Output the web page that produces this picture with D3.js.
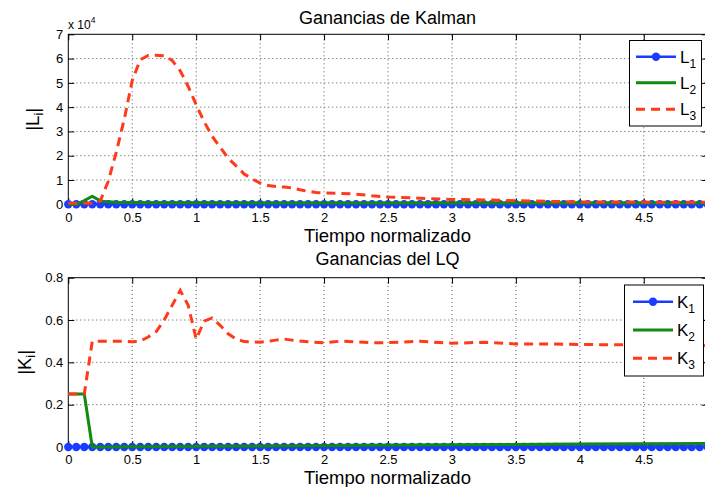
<!DOCTYPE html>
<html>
<head>
<meta charset="utf-8">
<script src="https://cdn.jsdelivr.net/npm/d3@7"></script>
<style>
  html, body { margin: 0; padding: 0; background: #fff; }
  svg { display: block; font-family: "Liberation Sans", Arial, Helvetica, sans-serif; }
</style>
</head>
<body>
<svg id="chart" width="705" height="487"></svg>
<script>
// ---------------- DATA ----------------
const timeGrid = [
  0,0.0625,0.125,0.1875,0.25,0.3125,0.375,0.4375,0.5,0.5625,0.625,0.6875,0.75,0.8125,0.875,0.9375,
  1,1.0625,1.125,1.1875,1.25,1.3125,1.375,1.4375,1.5,1.5625,1.625,1.6875,1.75,1.8125,1.875,1.9375,
  2,2.0625,2.125,2.1875,2.25,2.3125,2.375,2.4375,2.5,2.5625,2.625,2.6875,2.75,2.8125,2.875,2.9375,
  3,3.0625,3.125,3.1875,3.25,3.3125,3.375,3.4375,3.5,3.5625,3.625,3.6875,3.75,3.8125,3.875,3.9375,
  4,4.0625,4.125,4.1875,4.25,4.3125,4.375,4.4375,4.5,4.5625,4.625,4.6875,4.75,4.8125,4.875,4.9375,5
];
// Kalman gains (x 10^4)
const L1 = [
  0,0,0,0,0,0,0,0,0,0,0,0,0,0,0,0,
  0,0,0,0,0,0,0,0,0,0,0,0,0,0,0,0,
  0,0,0,0,0,0,0,0,0,0,0,0,0,0,0,0,
  0,0,0,0,0,0,0,0,0,0,0,0,0,0,0,0,
  0,0,0,0,0,0,0,0,0,0,0,0,0,0,0,0,0
];
const L2Time = [0, 0.0625, 0.125, 0.1875, 0.25, 0.3125, 0.375, 0.5, 0.75, 1, 1.5, 2, 3, 4, 5];
const L2 =     [0, 0,      0.15,  0.33,   0.14, 0.1,    0.08,  0.07, 0.06, 0.06, 0.05, 0.05, 0.05, 0.05, 0.05];
const L3Time = [0, 0.0625, 0.125, 0.1875, 0.25, 0.3125, 0.375, 0.4375, 0.5, 0.5625, 0.625, 0.6875, 0.75,
                0.8125, 0.875, 0.9375, 1, 1.0625, 1.125, 1.1875, 1.25, 1.3125, 1.375, 1.4375, 1.5,
                1.5625, 1.625, 1.6875, 1.75, 1.8125, 1.875, 1.9375, 2, 2.125, 2.25, 2.375, 2.5,
                2.75, 3, 3.25, 3.5, 3.75, 4, 4.5, 5];
const L3 =     [0.04, 0.04, 0.04, 0.04, 0.14, 0.95, 2.15, 3.5, 5.1, 5.95, 6.13, 6.14, 6.12,
                5.92, 5.5, 4.85, 4.1, 3.4, 2.8, 2.35, 1.9, 1.58, 1.25, 1.05, 0.87,
                0.77, 0.73, 0.71, 0.68, 0.6, 0.53, 0.49, 0.47, 0.45, 0.42, 0.35, 0.3,
                0.25, 0.2, 0.18, 0.15, 0.12, 0.1, 0.09, 0.08];
// LQ gains
const K1 = [
  0,0,0,0,0,0,0,0,0,0,0,0,0,0,0,0,
  0,0,0,0,0,0,0,0,0,0,0,0,0,0,0,0,
  0,0,0,0,0,0,0,0,0,0,0,0,0,0,0,0,
  0,0,0,0,0,0,0,0,0,0,0,0,0,0,0,0,
  0,0,0,0,0,0,0,0,0,0,0,0,0,0,0,0,0
];
const K2Time = [0, 0.0625, 0.125, 0.1875, 0.25, 1, 2, 3, 4, 5];
const K2 =     [0.25, 0.25, 0.25, 0, 0, 0.003, 0.007, 0.011, 0.014, 0.016];
const K3Time = [0, 0.0625, 0.125, 0.1875, 0.25, 0.3125, 0.375, 0.4375, 0.5, 0.5625, 0.625, 0.6875, 0.75,
                0.8125, 0.875, 0.9375, 1, 1.0625, 1.125, 1.1875, 1.25, 1.3125, 1.375, 1.5, 1.625,
                1.6875, 1.75, 1.875, 2, 2.125, 2.25, 2.375, 2.5, 2.75, 3, 3.25, 3.5, 3.75, 4, 4.5, 5];
const K3 =     [0.25, 0.25, 0.25, 0.5, 0.5, 0.5, 0.5, 0.5, 0.497, 0.5, 0.52, 0.545, 0.6,
                0.67, 0.74, 0.67, 0.51, 0.595, 0.61, 0.575, 0.535, 0.51, 0.498, 0.495, 0.505,
                0.51, 0.505, 0.497, 0.492, 0.5, 0.497, 0.493, 0.493, 0.5, 0.49, 0.495, 0.487, 0.487, 0.484, 0.483, 0.48];

const xTicks = [0, 0.5, 1, 1.5, 2, 2.5, 3, 3.5, 4, 4.5, 5];
const xTickLabels = ["0", "0.5", "1", "1.5", "2", "2.5", "3", "3.5", "4", "4.5", "5"];
const yTicksTop = [0, 1, 2, 3, 4, 5, 6, 7];
const yTickLabelsTop = ["0", "1", "2", "3", "4", "5", "6", "7"];
const yTicksBottom = [0, 0.2, 0.4, 0.6, 0.8];
const yTickLabelsBottom = ["0", "0.2", "0.4", "0.6", "0.8"];

const titles = ["Ganancias de Kalman", "Ganancias del LQ"];
const xLabel = "Tiempo normalizado";
const colors = { s1: "#1a3cff", s2: "#118a11", s3: "#ff3a1a" };

// ---------------- DRAWING ----------------
const svg = d3.select("#chart");
const FONT_TICK = 13;

function panel(cfg) {
  const g = svg.append("g");
  const x = d3.scaleLinear().domain([0, 5]).range([68.3, 707.7]);
  const y = d3.scaleLinear().domain(cfg.yDomain).range([cfg.bottom, cfg.top]);

  // grid
  g.append("g").selectAll("line.gx").data(xTicks.slice(1, -1)).join("line")
    .attr("x1", d => x(d)).attr("x2", d => x(d))
    .attr("y1", cfg.bottom).attr("y2", cfg.top)
    .attr("stroke", "#555").attr("stroke-width", 1).attr("stroke-dasharray", "1,3");
  g.append("g").selectAll("line.gy").data(cfg.yTicks.slice(1, -1)).join("line")
    .attr("x1", x(0)).attr("x2", x(5))
    .attr("y1", d => y(d)).attr("y2", d => y(d))
    .attr("stroke", "#555").attr("stroke-width", 1).attr("stroke-dasharray", "1,3");

  // axes (inward ticks)
  const fmtX = d => xTickLabels[xTicks.indexOf(d)];
  const fmtY = d => cfg.yLabels[cfg.yTicks.indexOf(d)];
  const axB = g.append("g").attr("transform", `translate(0,${cfg.bottom})`)
    .call(d3.axisBottom(x).tickValues(xTicks).tickFormat(fmtX).tickSize(-6).tickPadding(8));
  const axT = g.append("g").attr("transform", `translate(0,${cfg.top})`)
    .call(d3.axisTop(x).tickValues(xTicks).tickFormat("").tickSize(-6));
  const axL = g.append("g").attr("transform", `translate(${x(0)},0)`)
    .call(d3.axisLeft(y).tickValues(cfg.yTicks).tickFormat(fmtY).tickSize(-6).tickPadding(5));
  const axR = g.append("g").attr("transform", `translate(${x(5)},0)`)
    .call(d3.axisRight(y).tickValues(cfg.yTicks).tickFormat("").tickSize(-6));
  [axB, axT, axL, axR].forEach(a => {
    a.select(".domain").remove();
    a.selectAll("line").attr("stroke", "#000");
    a.selectAll("text").attr("fill", "#000").style("font-size", FONT_TICK + "px")
      .style("font-family", '"Liberation Sans", Arial, sans-serif');
  });

  // box
  g.append("rect").attr("x", x(0)).attr("y", cfg.top)
    .attr("width", x(5) - x(0)).attr("height", cfg.bottom - cfg.top)
    .attr("fill", "none").attr("stroke", "#000").attr("stroke-width", 1);

  const line = d3.line().x(d => x(d[0])).y(d => y(d[1]));

  // series 1: line + markers
  const s1 = timeGrid.map((t, i) => [t, cfg.s1[i]]);
  g.append("path").attr("d", line(s1)).attr("fill", "none")
    .attr("stroke", colors.s1).attr("stroke-width", 2.5);
  g.append("g").selectAll("circle").data(s1).join("circle")
    .attr("cx", d => x(d[0])).attr("cy", d => y(d[1])).attr("r", 4.2)
    .attr("fill", colors.s1);

  // series 2
  const s2 = cfg.s2t.map((t, i) => [t, cfg.s2[i]]);
  g.append("path").attr("d", line(s2)).attr("fill", "none")
    .attr("stroke", colors.s2).attr("stroke-width", 3).attr("stroke-linejoin", "round");

  // series 3 dashed
  const s3 = cfg.s3t.map((t, i) => [t, cfg.s3[i]]);
  g.append("path").attr("d", line(s3)).attr("fill", "none")
    .attr("stroke", colors.s3).attr("stroke-width", 3).attr("stroke-dasharray", "9,6");

  // title
  svg.append("text").attr("x", 387.5).attr("y", cfg.titleY).attr("text-anchor", "middle")
    .style("font-size", "18px").text(cfg.title);
  // x label
  svg.append("text").attr("x", 387.5).attr("y", cfg.xLabelY).attr("text-anchor", "middle")
    .style("font-size", "18.5px").text(xLabel);
  // y label
  const yl = svg.append("text")
    .attr("transform", `translate(${cfg.yLabelX},${(cfg.top + cfg.bottom) / 2}) rotate(-90)`)
    .attr("text-anchor", "middle").style("font-size", "18.5px");
  yl.append("tspan").text("|" + cfg.sym);
  yl.append("tspan").attr("dy", "0.3em").style("font-size", "13px").text("i");
  yl.append("tspan").attr("dy", "-0.2em").text("|");

  // legend
  const lg = svg.append("g");
  lg.append("rect").attr("x", cfg.leg.x0).attr("y", cfg.leg.y0)
    .attr("width", cfg.leg.x1 - cfg.leg.x0).attr("height", cfg.leg.y1 - cfg.leg.y0)
    .attr("fill", "#fff").attr("stroke", "#000").attr("stroke-width", 1);
  const styles = [
    { c: colors.s1, dash: null, marker: true },
    { c: colors.s2, dash: null, marker: false },
    { c: colors.s3, dash: "9,6", marker: false }
  ];
  cfg.leg.rows.forEach((ry, i) => {
    const st = styles[i];
    lg.append("line").attr("x1", cfg.leg.lx0).attr("x2", cfg.leg.lx1)
      .attr("y1", ry).attr("y2", ry).attr("stroke", st.c)
      .attr("stroke-width", st.marker ? 2.5 : 3)
      .attr("stroke-dasharray", st.dash);
    if (st.marker) lg.append("circle").attr("cx", (cfg.leg.lx0 + cfg.leg.lx1) / 2)
      .attr("cy", ry).attr("r", 4.2).attr("fill", st.c);
    const t = lg.append("text").attr("x", cfg.leg.tx).attr("y", ry + 6).style("font-size", "17px");
    t.append("tspan").text(cfg.sym);
    t.append("tspan").attr("dy", 5).style("font-size", "12px").text(String(i + 1));
  });
}

panel({
  top: 34.3, bottom: 204.3, yDomain: [0, 7],
  yTicks: yTicksTop, yLabels: yTickLabelsTop,
  s1: L1, s2t: L2Time, s2: L2, s3t: L3Time, s3: L3,
  title: titles[0], titleY: 23.5, xLabelY: 241.5, yLabelX: 39, sym: "L",
  leg: { x0: 629.5, x1: 701.5, y0: 40.5, y1: 126, rows: [56.7, 82.7, 109.3],
         lx0: 636, lx1: 676, tx: 680 }
});
panel({
  top: 277.7, bottom: 447, yDomain: [0, 0.8],
  yTicks: yTicksBottom, yLabels: yTickLabelsBottom,
  s1: K1, s2t: K2Time, s2: K2, s3t: K3Time, s3: K3,
  title: titles[1], titleY: 265, xLabelY: 483.5, yLabelX: 31, sym: "K",
  leg: { x0: 624.5, x1: 703.5, y0: 285, y1: 376, rows: [301.7, 330, 358.3],
         lx0: 633, lx1: 673, tx: 677 }
});

// multiplier label
const mult = svg.append("text").attr("x", 68).attr("y", 28.5).style("font-size", "12px");
mult.append("tspan").text("x 10");
mult.append("tspan").attr("dy", -6).style("font-size", "8.5px").text("4");
</script>
</body>
</html>
